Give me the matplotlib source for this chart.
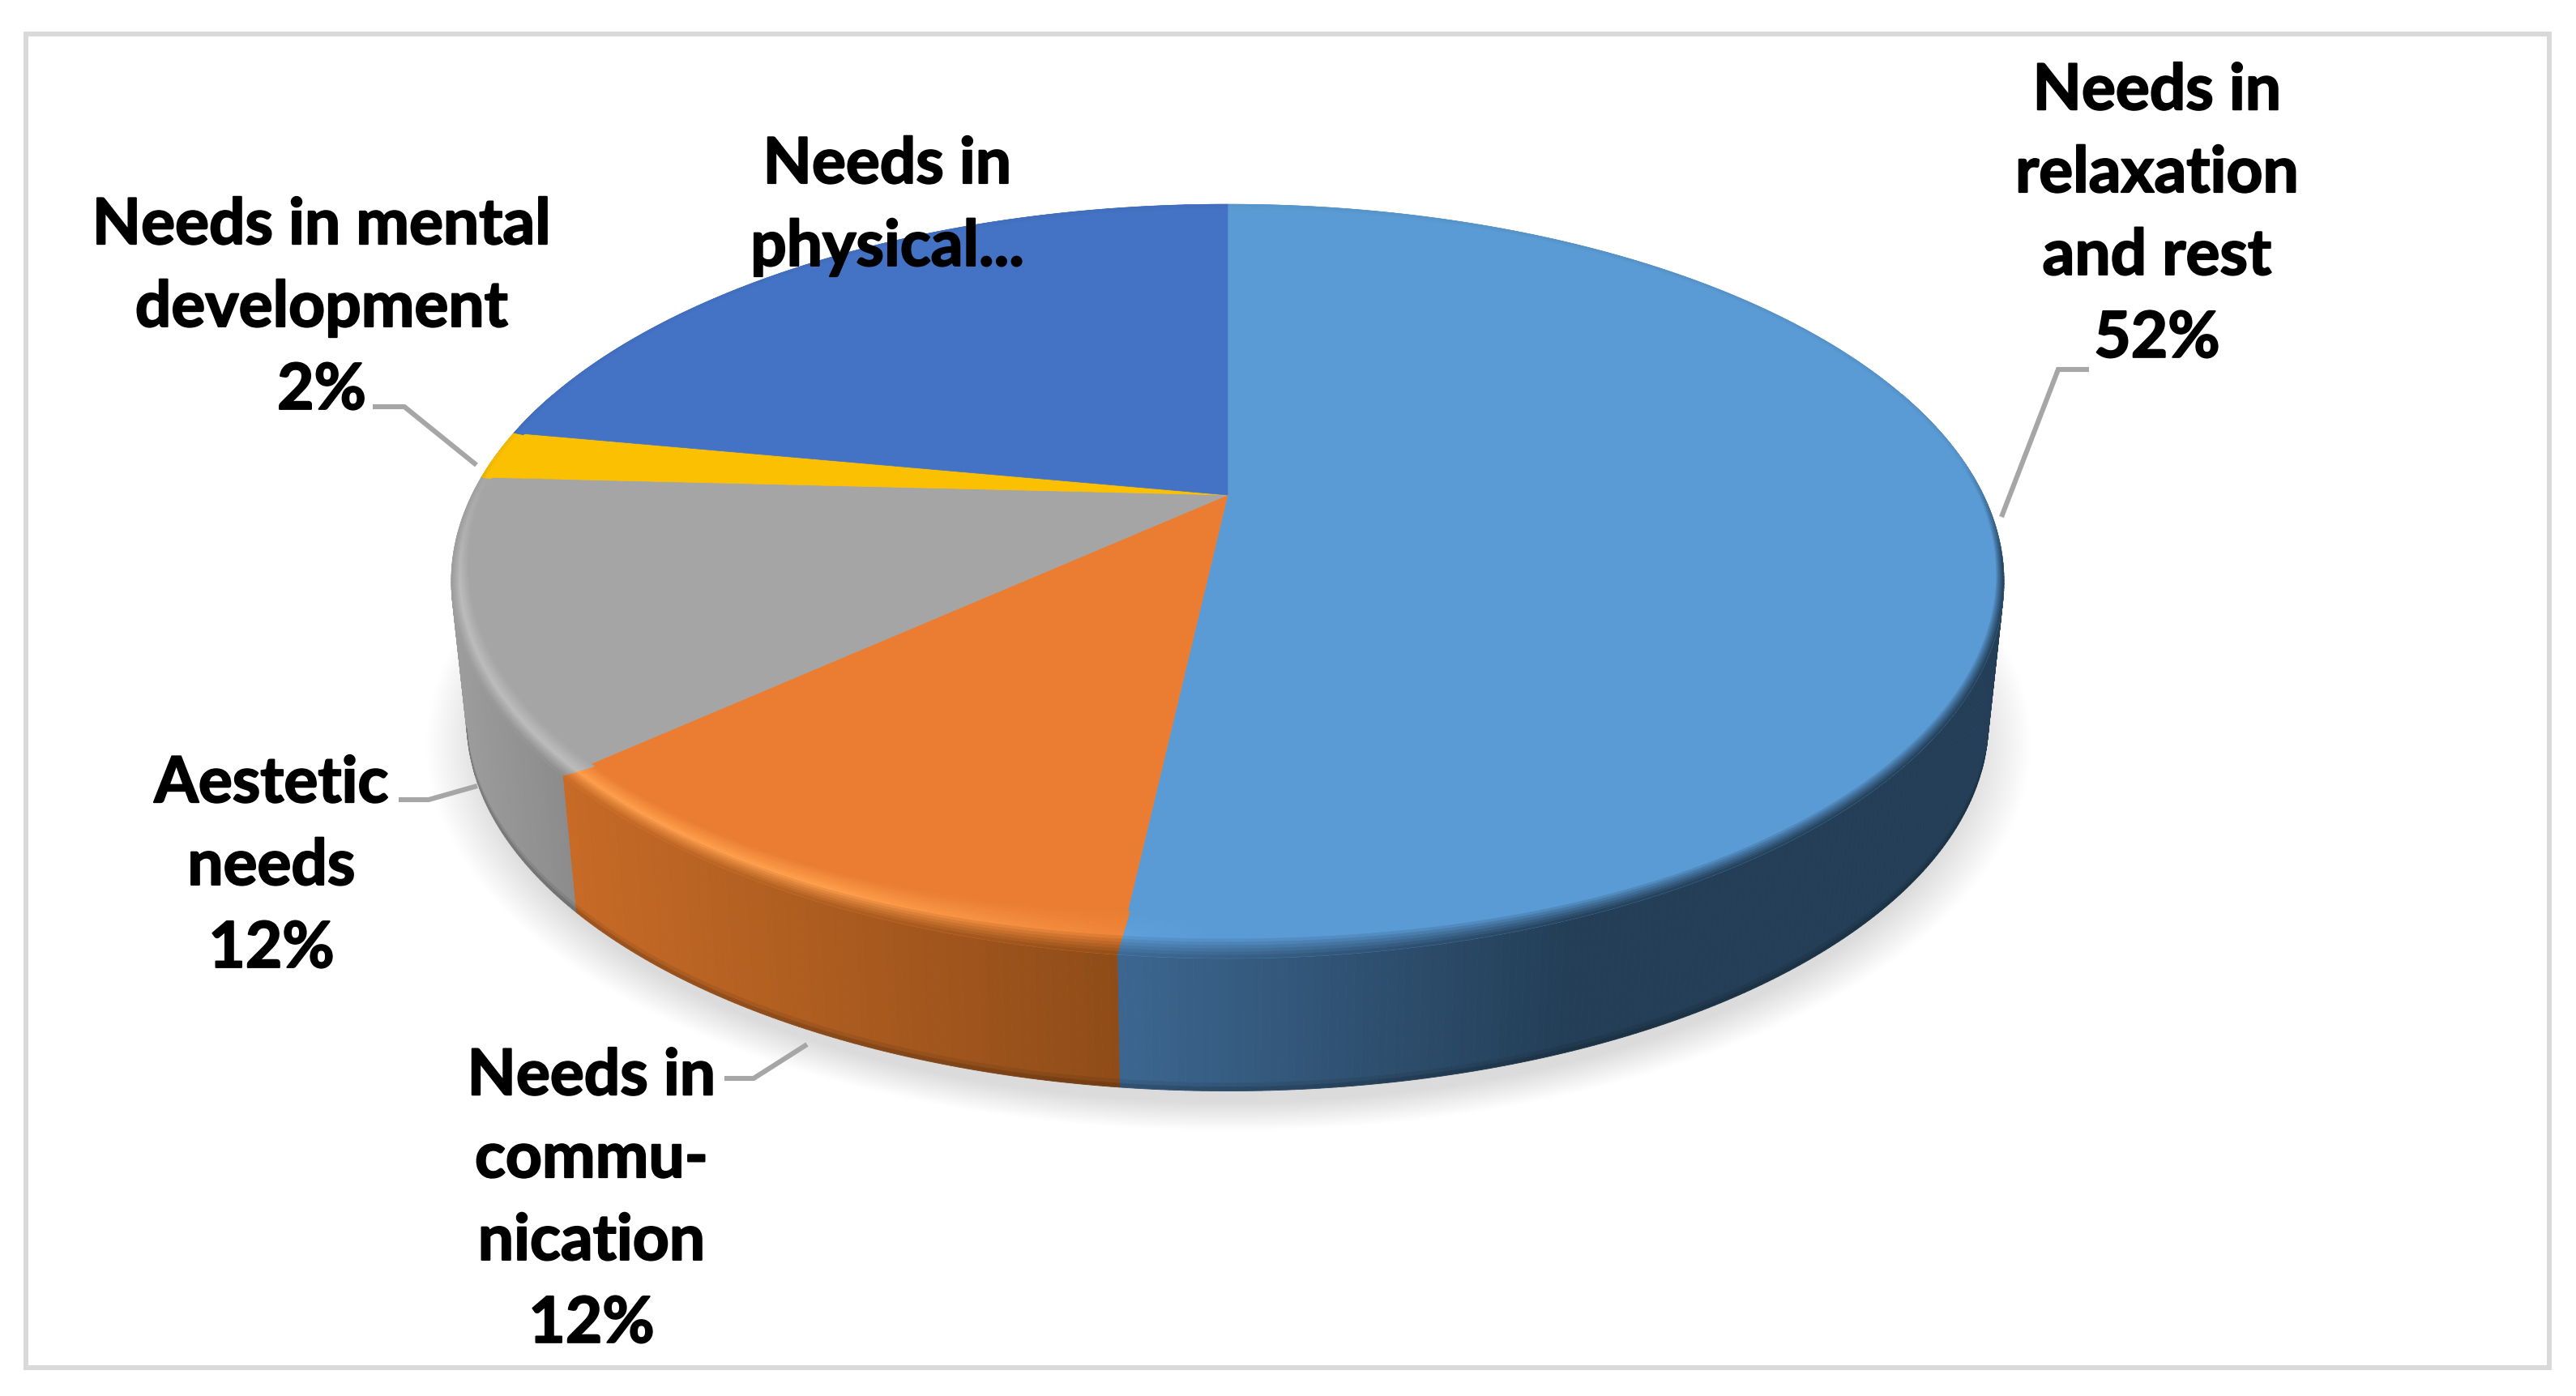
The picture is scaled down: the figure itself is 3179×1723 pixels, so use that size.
import numpy as np
import matplotlib
matplotlib.use('Agg')
import matplotlib.pyplot as plt
import matplotlib.patheffects as pe
from matplotlib.collections import PolyCollection
from matplotlib.colors import to_rgb
from matplotlib.patches import Rectangle, Polygon

# data
names = ['Needs in\nrelaxation\nand rest', 'Needs in\ncommu-\nnication', 'Aestetic\nneeds',
         'Needs in mental\ndevelopment', 'Needs in\nphysical...']
values = [51.8, 11.6, 12.4, 2.1, 22.1]
show_pct = [True, True, True, True, False]
top_colors = ['#5B9BD5', '#EA7D32', '#A5A5A5', '#FBC002', '#4472C4']
glow_colors = ['#6DB0EC', '#FFA04E', '#BEBEBE', '#FFD040', '#5B8AE0']
side_left = ['#3C6690', '#C66A26', '#9C9C9C', '#A07A00', '#2A4A80']
side_right = ['#233E56', '#8F4C18', '#8A8A8A', '#A07A00', '#2A4A80']
label_pos = [(2662, 267), (730, 1483), (335, 1071), (397, 382), (1095, 256)]
leaders = [[(2578, 457), (2540, 457), (2470, 639)],
           [(894, 1332), (930, 1332), (996, 1290)],
           [(492, 988), (529, 988), (589, 971)],
           [(460, 503), (499, 503), (588, 575)]]

# pie geometry in pixels
cx, apex_y = 1515, 612
k = 0.2288
a, b = 932.6, 441
ell_y = 718
depth = 173
shrink = 0.98


def rim(theta):
    t = np.radians(theta)
    x, y = np.sin(t), np.cos(t)
    w = 1 + k * y
    return cx + a * x / w, apex_y - b * y / w


def base(theta):
    X, Y = rim(theta)
    return cx + (X - cx) * shrink, ell_y + (Y - ell_y) * shrink + depth


def mix(c1, c2, f):
    return np.array(c1) * (1 - f) + np.array(c2) * f


fig = plt.figure(figsize=(31.79, 17.24), dpi=100, facecolor='white')
ax = fig.add_axes([0, 0, 1, 1])

# soft shadow under the pie
gx, gy = np.meshgrid(np.arange(400, 2650, 3), np.arange(500, 1480, 3))
d = np.sqrt(((gx - cx) / 990) ** 2 + ((gy - 918) / 478) ** 2)
alpha = np.clip((1.0 - d) / 0.075, 0, 1)
shadow = np.zeros(gx.shape + (4,))
shadow[..., :3] = 0.86
shadow[..., 3] = alpha
ax.imshow(shadow, extent=(400, 2650, 1480, 500), aspect='auto', zorder=1)

edges = np.concatenate([[0], np.cumsum(values)]) * 360.0 / sum(values)

for i in range(len(values)):
    th = np.arange(edges[i], edges[i + 1] + 0.01, 0.5)
    if th[-1] < edges[i + 1]:
        th = np.append(th, edges[i + 1])
    top = to_rgb(top_colors[i])
    glow = to_rgb(glow_colors[i])
    sl, sr = to_rgb(side_left[i]), to_rgb(side_right[i])

    def side_col(x):
        if i == 0:
            return mix(sl, sr, np.clip((x - 1382) / 560, 0, 1))
        if i == 1:
            return mix(sl, sr, np.clip((x - 700) / 680, 0, 1))
        return mix(sl, sr, np.clip((x - 560) / 150, 0, 1))

    # side wall
    quads, cols = [], []
    vs = [0, 0.94, 0.97, 1.0]
    shade = [1, 0.92, 0.8]
    for t0, t1 in zip(th[:-1], th[1:]):
        uy = np.cos(np.radians((t0 + t1) / 2))
        if uy > 0.3:
            continue
        x0, y0 = rim(t0)
        x1, y1 = rim(t1)
        bx0, by0 = base(t0)
        bx1, by1 = base(t1)
        c = side_col((x0 + x1) / 2)
        for j in range(3):
            v0, v1 = vs[j], vs[j + 1]
            quads.append([(x0 + (bx0 - x0) * v0, y0 + (by0 - y0) * v0),
                          (x1 + (bx1 - x1) * v0, y1 + (by1 - y1) * v0),
                          (x1 + (bx1 - x1) * v1, y1 + (by1 - y1) * v1),
                          (x0 + (bx0 - x0) * v1, y0 + (by0 - y0) * v1)])
            # the darker bottom line only shows on the front of the wall
            cols.append(c * (shade[j] if uy < -0.25 else 1))
    if quads:
        ax.add_collection(PolyCollection(quads, facecolors=cols, edgecolors=cols, linewidths=0.6, zorder=2))

    # top face
    px, py = rim(th)
    ax.add_patch(Polygon(np.column_stack([np.r_[cx, px], np.r_[apex_y, py]]), closed=True,
                         facecolor=top, edgecolor=top, linewidth=0.5, zorder=3))

    # rounded edge around the top face
    ss = np.linspace(0, 1, 15)
    quads, cols = [], []
    for t0, t1 in zip(th[:-1], th[1:]):
        tm = (t0 + t1) / 2
        uy = np.cos(np.radians(tm))
        xm, ym = rim(tm)
        q = np.clip((0.12 - uy) / 0.3, 0.1, 1)
        h = np.clip((1500 - xm) / 500, 0, 1) * np.clip((0.1 - uy) / 0.35, 0, 1)
        end = mix(top, side_col(xm), q)
        gl = mix(top, glow, h)
        pts = []
        for t in (t0, t1):
            x, y = rim(t)
            dist = np.hypot(x - cx, y - ell_y)
            cy_t = np.cos(np.radians(t))
            f = (12 + 44 * abs(cy_t) * (cy_t < 0)) / dist
            pts.append((x, y, f))
        for s0, s1 in zip(ss[:-1], ss[1:]):
            sm = (s0 + s1) / 2
            if sm < 0.55:
                c = mix(top, gl, sm / 0.55)
            else:
                c = mix(gl, end, ((sm - 0.55) / 0.45) ** 0.8)
            qd = []
            for (x, y, f), s in ((pts[0], s0), (pts[1], s0), (pts[1], s1), (pts[0], s1)):
                g = f * (1 - s)
                qd.append((x + (cx - x) * g, y + (ell_y - y) * g))
            quads.append(qd)
            cols.append(c)
    ax.add_collection(PolyCollection(quads, facecolors=cols, edgecolors=cols, linewidths=0.4, zorder=4))

# leader lines
for pts in leaders:
    xs, ys = zip(*pts)
    ax.plot(xs, ys, color='#A6A6A6', lw=4.4, solid_joinstyle='miter', solid_capstyle='butt', zorder=5)

# labels
for name, val, pos, sp in zip(names, values, label_pos, show_pct):
    txt = name + ('\n%d%%' % round(val) if sp else '')
    ax.text(pos[0], pos[1], txt, ha='center', va='center', family='Lato', fontweight='bold',
            fontsize=56.5, color='black', linespacing=1.515, zorder=6,
            path_effects=[pe.withStroke(linewidth=1.5, foreground='black')])

# outer frame
ax.add_patch(Rectangle((32, 43), 3114, 1646, fill=False, edgecolor='#D9D9D9', lw=4.3, zorder=0))

ax.set_xlim(0, 3179)
ax.set_ylim(1724, 0)
ax.axis('off')
fig.savefig('out.png', dpi=100)
